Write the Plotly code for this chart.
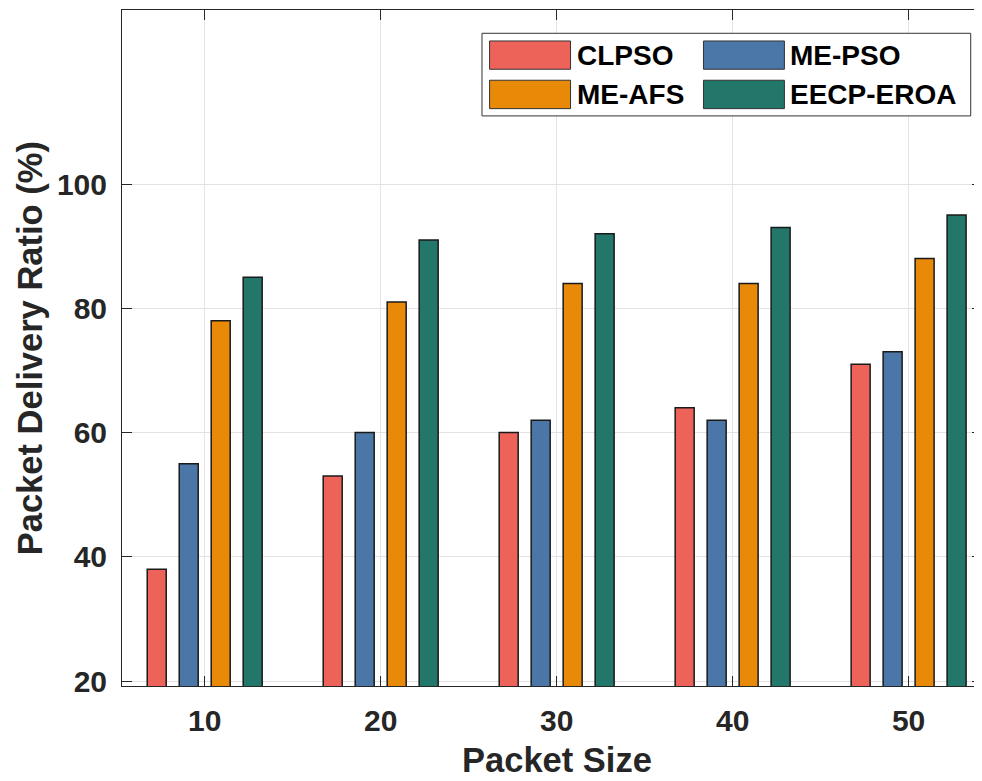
import plotly.graph_objects as go

packet_size = [10, 20, 30, 40, 50]
clpso = [38, 53, 60, 64, 71]
me_pso = [55, 60, 62, 62, 73]
me_afs = [78, 81, 84, 84, 88]
eecp_eroa = [85, 91, 92, 93, 95]

series_names = ["CLPSO", "ME-PSO", "ME-AFS", "EECP-EROA"]
series_values = [clpso, me_pso, me_afs, eecp_eroa]
colors = ["#ED6359", "#4B76A8", "#E88908", "#23766A"]
y_ticks = [20, 40, 60, 80, 100]

OFF = 8  # default page body margin
W, H = 982 - OFF, 781 - OFF
# plot area in page pixels
L, R, T, B = 121.5, 982, 10, 686.5
TXT = "#262626"
FONT = "Arial, Liberation Sans, Helvetica, sans-serif"

def px(x):
    return (x - L) / (R - L)

def py(y):
    return (B - y) / (B - T)

fig = go.Figure()
for name, vals, col in zip(series_names, series_values, colors):
    fig.add_trace(go.Bar(
        x=packet_size, y=vals, name=name, showlegend=False,
        marker=dict(color=col, line=dict(color="#1a1a1a", width=1.5)),
    ))

# custom legend (wide swatches like the original)
shapes = [dict(type="rect", xref="paper", yref="paper",
               x0=px(481.7), x1=px(970.7), y0=py(116), y1=py(33.3),
               line=dict(color="#333333", width=1), fillcolor="white", layer="above")]
annotations = []
cols_x = [489.3, 703.3]
rows_y = [(41, 69.3), (80.3, 108.7)]
for i, (name, col) in enumerate(zip(series_names, colors)):
    r, c = divmod(i, 2)
    x0 = cols_x[c]
    y0, y1 = rows_y[r]
    shapes.append(dict(type="rect", xref="paper", yref="paper",
                       x0=px(x0), x1=px(x0 + 81), y0=py(y1), y1=py(y0),
                       line=dict(color="#333333", width=1), fillcolor=col, layer="above"))
    annotations.append(dict(xref="paper", yref="paper", x=px(x0 + 85), y=py((y0 + y1) / 2),
                            xanchor="left", yanchor="middle", showarrow=False,
                            text="<b>%s</b>" % name,
                            font=dict(family=FONT, size=28, color="black")))

annotations.append(dict(xref="paper", yref="paper", x=px(556.9), y=py(781),
                        xanchor="center", yanchor="bottom", showarrow=False, borderpad=0,
                        text="<b>Packet Size</b>",
                        font=dict(family=FONT, size=34.5, color=TXT)))
annotations.append(dict(xref="paper", yref="paper", x=px(29), y=py(349),
                        xanchor="center", yanchor="middle", showarrow=False, textangle=-90,
                        text="<b>Packet Delivery Ratio (%)</b>",
                        font=dict(family=FONT, size=34.5, color=TXT)))

axis_common = dict(
    showline=True, linecolor=TXT, linewidth=1, mirror="ticks",
    ticks="inside", ticklen=10, tickcolor=TXT, tickwidth=1,
    showgrid=True, gridcolor="#e3e3e3", gridwidth=1, zeroline=False,
    tickfont=dict(family=FONT, size=30, color=TXT),
)

fig.update_layout(
    width=W, height=H,
    margin=dict(l=L - OFF, r=W - (R - OFF), t=T - OFF, b=H - (B - OFF), pad=0),
    paper_bgcolor="white", plot_bgcolor="white",
    barmode="group", bargap=0.273, bargroupgap=0.406,
    shapes=shapes, annotations=annotations,
    xaxis=dict(range=[5.3, 54.17], tickvals=packet_size,
               ticktext=["<b>%d</b>" % v for v in packet_size],
               ticklabelstandoff=8, **axis_common),
    yaxis=dict(range=[19.23, 128], tickvals=y_ticks,
               ticktext=["<b>%d</b>" % v for v in y_ticks],
               ticklabelstandoff=8, **axis_common),
)

fig.write_html("out.html")
